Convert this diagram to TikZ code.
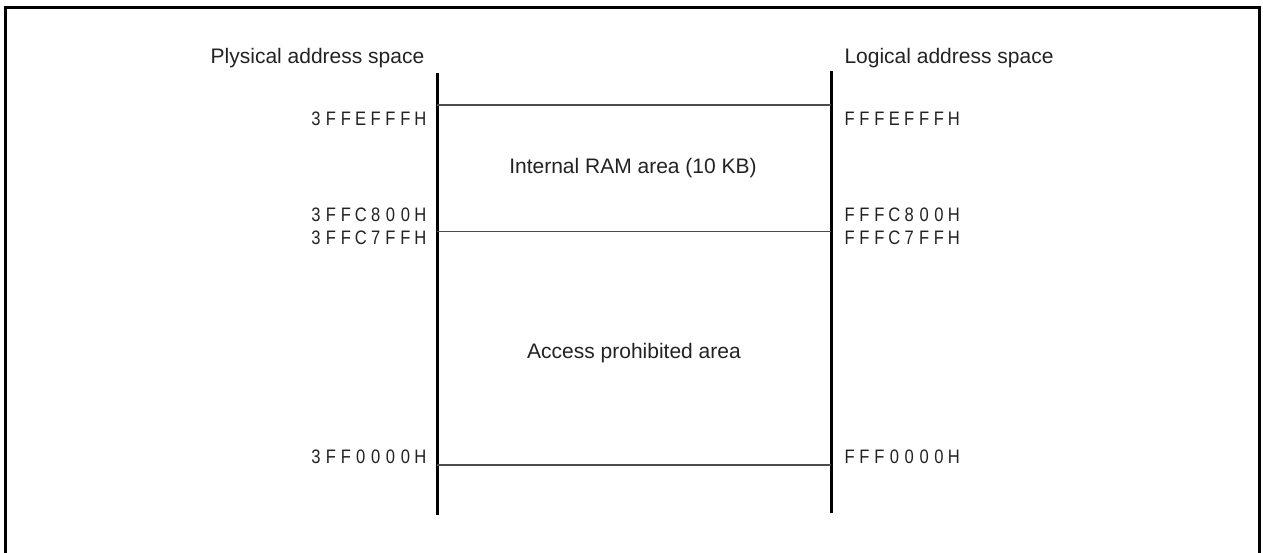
\documentclass[tikz,border=0pt]{standalone}
\usepackage{graphicx}
\usepackage{fontspec}
\setmainfont{Liberation Sans}
\makeatletter
\newcommand\hexlbl[1]{\@tfor\hx@c:=#1\do{\makebox[14.9pt]{\scalebox{0.85}[1]{\hx@c}}}}
\makeatother
\definecolor{txt}{HTML}{222222}
\begin{document}
\begin{tikzpicture}[x=1pt,y=-1pt,
  title/.style={inner sep=0pt, font=\fontsize{21}{25}\selectfont, text=txt},
  area/.style={inner sep=0pt, font=\fontsize{21}{25}\selectfont, text=txt},
  hexl/.style={inner sep=0pt, font=\fontsize{19.5}{22}\selectfont, text=txt, anchor=east},
  hexr/.style={inner sep=0pt, font=\fontsize{19.5}{22}\selectfont, text=txt, anchor=west},
  axis/.style={line width=3pt, black},
  bound/.style={line width=1.2pt, black!70}]
\useasboundingbox (0,0) rectangle (1263,552);
\draw[line width=3pt] (5,7) rectangle (1259,620);
% axes
\coordinate (pt) at (437,73);
\coordinate (pb) at (437,515);
\coordinate (lt) at (831,71);
\coordinate (lb) at (831,513);
\draw[axis] (pt) -- (pb);
\draw[axis] (lt) -- (lb);
% boundaries
\coordinate (p1) at (437,105); \coordinate (l1) at (831,105);
\coordinate (p2) at (437,231.5); \coordinate (l2) at (831,231.5);
\coordinate (p3) at (437,465); \coordinate (l3) at (831,465);
\draw[bound] (p1) -- (l1);
\draw[bound] (p2) -- (l2);
\draw[bound] (p3) -- (l3);
% titles
\node[title] (tp) at (317.5,58) {Plysical address space};
\node[title] (tl) at (949,58) {Logical address space};
% areas
\node[area] (ram) at (633,168) {Internal RAM area (10 KB)};
\node[area] (acc) at (634,353) {Access prohibited area};
% hex labels
\node[hexl] (a1) at (428,119) {\hexlbl{3FFEFFFH}};
\node[hexl] (a2) at (428,215) {\hexlbl{3FFC800H}};
\node[hexl] (a3) at (428,238) {\hexlbl{3FFC7FFH}};
\node[hexl] (a4) at (428,457) {\hexlbl{3FF0000H}};
\node[hexr] (b1) at (842,119) {\hexlbl{FFFEFFFH}};
\node[hexr] (b2) at (842,215) {\hexlbl{FFFC800H}};
\node[hexr] (b3) at (842,238) {\hexlbl{FFFC7FFH}};
\node[hexr] (b4) at (842,457) {\hexlbl{FFF0000H}};
\end{tikzpicture}
\end{document}
